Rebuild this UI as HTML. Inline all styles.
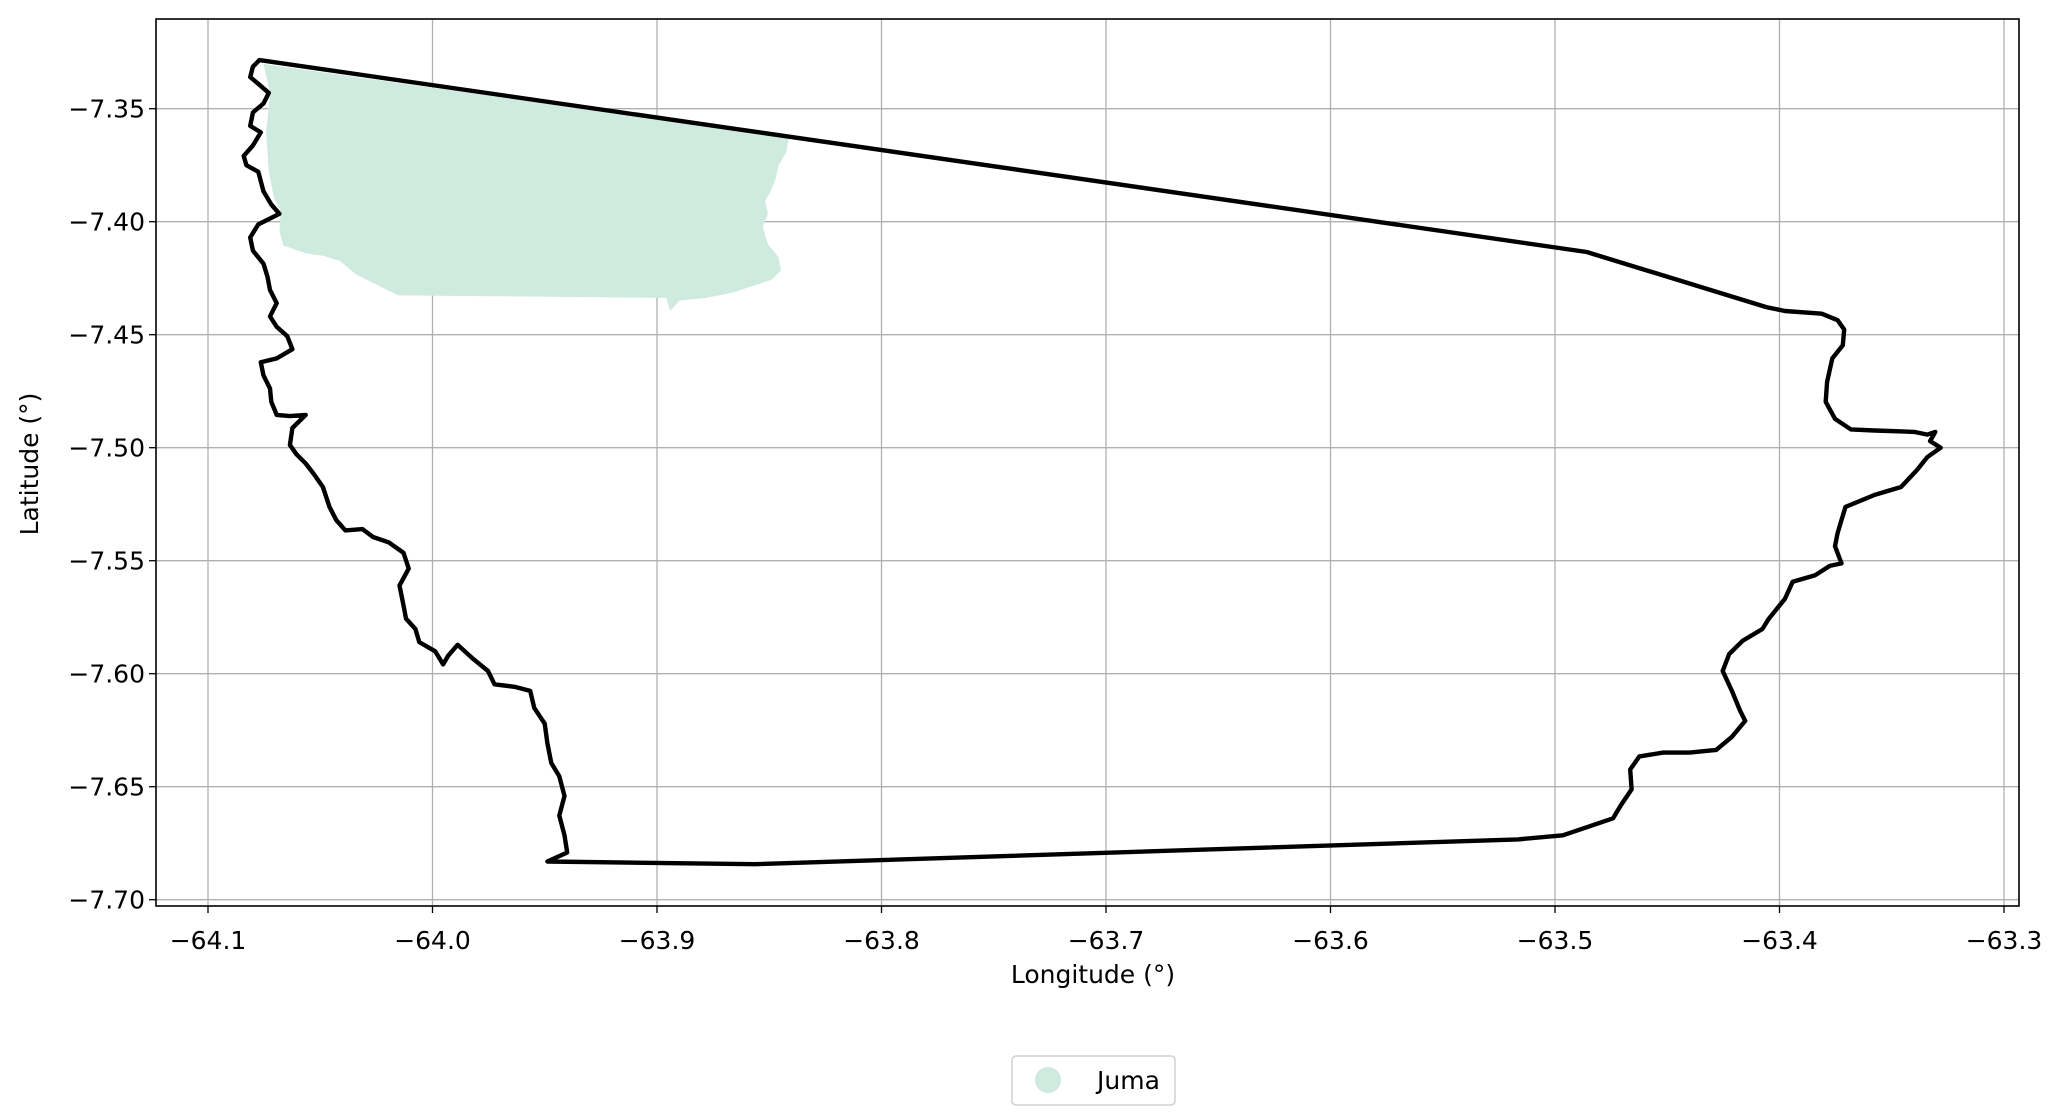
<!DOCTYPE html>
<html><head><meta charset="utf-8"><title>Juma map</title>
<style>
html,body{margin:0;padding:0;background:#fff;}
svg{display:block;font-family:"DejaVu Sans","Liberation Sans",sans-serif;}
</style></head>
<body>
<svg id="chart" width="2064" height="1119" viewBox="0 0 2064 1119" xmlns="http://www.w3.org/2000/svg"></svg>
<script>
const lonTicks = [-64.1, -64.0, -63.9, -63.8, -63.7, -63.6, -63.5, -63.4, -63.3];
const lonTickLabels = ["\u221264.1","\u221264.0","\u221263.9","\u221263.8","\u221263.7","\u221263.6","\u221263.5","\u221263.4","\u221263.3"];
const latTicks = [-7.35, -7.40, -7.45, -7.50, -7.55, -7.60, -7.65, -7.70];
const latTickLabels = ["\u22127.35","\u22127.40","\u22127.45","\u22127.50","\u22127.55","\u22127.60","\u22127.65","\u22127.70"];
const boundaryLon = [-64.0771,-63.4859,-63.4059,-63.3976,-63.3812,-63.3741,-63.3712,-63.3718,-63.3765,-63.3788,-63.3794,-63.3753,-63.3682,-63.3576,-63.34,-63.3341,-63.3306,-63.3329,-63.3282,-63.3341,-63.3388,-63.3459,-63.3576,-63.3635,-63.3706,-63.3724,-63.3741,-63.3753,-63.3724,-63.3776,-63.3841,-63.3941,-63.3976,-63.4047,-63.4076,-63.4165,-63.4224,-63.4253,-63.4212,-63.4176,-63.4153,-63.4212,-63.4282,-63.44,-63.4518,-63.4624,-63.4665,-63.4659,-63.4706,-63.4741,-63.4965,-63.5165,-63.8565,-63.9488,-63.94,-63.9412,-63.9435,-63.9412,-63.9435,-63.9471,-63.9488,-63.95,-63.9547,-63.9565,-63.9635,-63.9724,-63.9753,-63.9824,-63.9888,-63.9929,-63.9953,-63.9988,-64.0059,-64.0076,-64.0118,-64.0129,-64.0147,-64.0106,-64.0129,-64.0194,-64.0265,-64.0312,-64.0388,-64.0429,-64.0459,-64.0488,-64.0529,-64.0565,-64.0606,-64.0635,-64.0624,-64.0565,-64.0635,-64.0694,-64.0718,-64.0724,-64.0753,-64.0765,-64.0694,-64.0624,-64.0647,-64.0694,-64.0724,-64.0694,-64.0724,-64.0735,-64.0753,-64.08,-64.0812,-64.0776,-64.0682,-64.0718,-64.0753,-64.0776,-64.0829,-64.0841,-64.08,-64.0765,-64.0812,-64.08,-64.0753,-64.0729,-64.0776,-64.0812,-64.08];
const boundaryLat = [-7.3285,-7.4134,-7.4378,-7.4395,-7.4407,-7.4436,-7.4477,-7.4547,-7.4605,-7.4709,-7.4797,-7.4872,-7.4919,-7.4924,-7.4930,-7.4942,-7.4930,-7.4971,-7.5000,-7.5041,-7.5099,-7.5174,-7.5209,-7.5233,-7.5262,-7.5320,-7.5378,-7.5436,-7.5512,-7.5523,-7.5564,-7.5593,-7.5669,-7.5756,-7.5802,-7.5855,-7.5913,-7.5988,-7.6076,-7.6163,-7.6209,-7.6279,-7.6337,-7.6349,-7.6349,-7.6366,-7.6424,-7.6512,-7.6581,-7.6640,-7.6715,-7.6733,-7.6843,-7.6831,-7.6791,-7.6715,-7.6628,-7.6541,-7.6454,-7.6395,-7.6308,-7.6221,-7.6151,-7.6076,-7.6058,-7.6047,-7.5988,-7.5930,-7.5872,-7.5919,-7.5959,-7.5901,-7.5860,-7.5802,-7.5756,-7.5698,-7.5610,-7.5535,-7.5465,-7.5419,-7.5395,-7.5360,-7.5366,-7.5320,-7.5262,-7.5174,-7.5116,-7.5070,-7.5029,-7.4988,-7.4913,-7.4855,-7.4860,-7.4855,-7.4797,-7.4738,-7.4680,-7.4622,-7.4605,-7.4564,-7.4506,-7.4465,-7.4419,-7.4360,-7.4302,-7.4244,-7.4186,-7.4128,-7.4070,-7.4012,-7.3965,-7.3924,-7.3866,-7.3779,-7.3750,-7.3709,-7.3663,-7.3605,-7.3576,-7.3517,-7.3477,-7.3430,-7.3390,-7.3360,-7.3314];
const fillLon = [-64.0753,-63.8412,-63.8424,-63.8459,-63.8471,-63.8494,-63.8518,-63.8506,-63.8529,-63.8506,-63.8459,-63.8447,-63.8488,-63.8576,-63.8665,-63.8782,-63.89,-63.8941,-63.8959,-63.9576,-64.0153,-64.0224,-64.0341,-64.0412,-64.0488,-64.0565,-64.0665,-64.0682,-64.0676,-64.0706,-64.0729,-64.0741,-64.0724];
const fillLat = [-7.3302,-7.3628,-7.3692,-7.3750,-7.3808,-7.3866,-7.3907,-7.3965,-7.4023,-7.4099,-7.4157,-7.4215,-7.4256,-7.4285,-7.4314,-7.4337,-7.4349,-7.4395,-7.4337,-7.4331,-7.4326,-7.4291,-7.4233,-7.4174,-7.4151,-7.4140,-7.4105,-7.4041,-7.3953,-7.3895,-7.3779,-7.3605,-7.3430];

const NS = "http://www.w3.org/2000/svg";
const svg = document.getElementById('chart');
const PL = 156, PR = 2019, PT = 19, PB = 906;
const FS = 25;
function xs(lon){ return 208 + (lon + 64.1) * 2245; }
function ys(lat){ return 108.7 + (-7.35 - lat) * 2260; }
function mk(tag, attrs){ const e = document.createElementNS(NS, tag); for (const k in attrs) e.setAttribute(k, attrs[k]); svg.appendChild(e); return e; }

lonTicks.forEach((v,i)=>{
  const g = mk('line',{x1:xs(v),x2:xs(v),y1:PT,y2:PB,stroke:'#b0b0b0','stroke-width':1.3});
  
  
});
latTicks.forEach((v,i)=>{
  const g = mk('line',{x1:PL,x2:PR,y1:ys(v),y2:ys(v),stroke:'#b0b0b0','stroke-width':1.3});
  
  
});

const fp = mk('polygon',{points:fillLon.map((v,i)=>xs(v).toFixed(1)+','+ys(fillLat[i]).toFixed(1)).join(' '),fill:'#cfeadf',stroke:'none'});



const bp = mk('polygon',{points:boundaryLon.map((v,i)=>xs(v).toFixed(1)+','+ys(boundaryLat[i]).toFixed(1)).join(' '),fill:'none',stroke:'#000','stroke-width':4.4,'stroke-linejoin':'round'});



const fr = mk('rect',{x:PL,y:PT,width:PR-PL,height:PB-PT,fill:'none',stroke:'#000','stroke-width':1.6});



lonTicks.forEach((v,i)=>{
  const t = mk('line',{x1:xs(v),x2:xs(v),y1:PB,y2:PB+7,stroke:'#000','stroke-width':1.3});
  
  
  const l = mk('text',{x:xs(v),y:PB+43,'text-anchor':'middle','font-size':FS,fill:'#000'});
  l.textContent = lonTickLabels[i];
  
  
});
latTicks.forEach((v,i)=>{
  const t = mk('line',{x1:PL-7,x2:PL,y1:ys(v),y2:ys(v),stroke:'#000','stroke-width':1.3});
  
  
  const l = mk('text',{x:PL-11,y:ys(v)+9,'text-anchor':'end','font-size':FS,fill:'#000'});
  l.textContent = latTickLabels[i];
  
  
});

const xt = mk('text',{x:1093,y:983,'text-anchor':'middle','font-size':FS,fill:'#000'});
xt.textContent = 'Longitude (\u00b0)';


const yt = mk('text',{x:0,y:0,'text-anchor':'middle','font-size':FS,fill:'#000',transform:'translate(38,464) rotate(-90)'});
yt.textContent = 'Latitude (\u00b0)';



const lb = mk('rect',{x:1012,y:1056,width:163,height:49,rx:4,fill:'#fff',stroke:'#d0d0d0','stroke-width':1.5});


const lm = mk('circle',{cx:1048,cy:1080,r:13,fill:'#cfeadf'});


const lt = mk('text',{x:1097,y:1089,'font-size':FS,fill:'#000'});
lt.textContent = 'Juma';


</script>
</body></html>
